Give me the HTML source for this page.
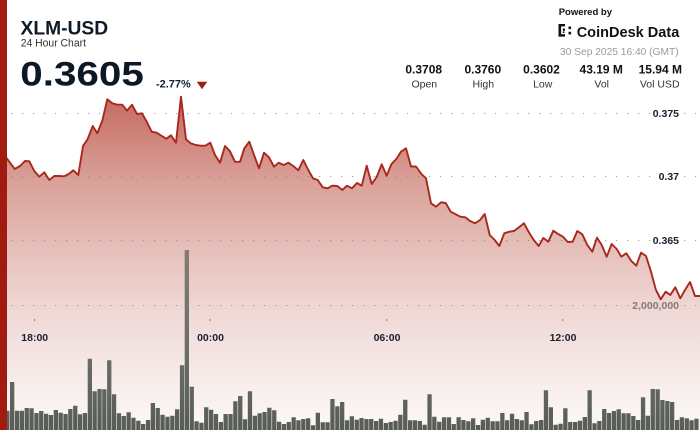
<!DOCTYPE html>
<html>
<head>
<meta charset="utf-8">
<style>
html,body{margin:0;padding:0;background:#fff;}
svg{display:block;}
text{font-family:"Liberation Sans",Arial,sans-serif;}
</style>
</head>
<body>
<svg width="700" height="430" viewBox="0 0 700 430" xmlns="http://www.w3.org/2000/svg">
<defs>
<linearGradient id="af" gradientUnits="userSpaceOnUse" x1="0" y1="95" x2="0" y2="430">
<stop offset="0" stop-color="#c5695f"/>
<stop offset="0.254" stop-color="#d9a098"/>
<stop offset="0.463" stop-color="#e6c0bb"/>
<stop offset="0.642" stop-color="#efd8d5"/>
<stop offset="0.851" stop-color="#f7ecea"/>
<stop offset="1" stop-color="#fcf8f8"/>
</linearGradient>
<linearGradient id="bg" gradientUnits="userSpaceOnUse" x1="0" y1="250" x2="0" y2="430">
<stop offset="0" stop-color="#857b77"/>
<stop offset="0.6" stop-color="#6a6c66"/>
<stop offset="1" stop-color="#575d56"/>
</linearGradient>
<path id="ln" d="M3,153 L7.3,159 L14.7,169 L20,166 L25,161 L29.3,161.3 L34.3,171 L39.3,176.7 L44.3,172.3 L49.3,180 L54.3,176 L59.3,176 L64,176.3 L68.7,174 L73.3,170.3 L78.3,175 L83,146 L87.7,139 L92.7,126 L97.3,133.3 L102.3,120.7 L107.3,99.3 L112.3,103.3 L117.3,104.7 L122.3,104.7 L127,110.7 L132,104.7 L137,114 L142,113.3 L146.7,121.7 L151.7,131.7 L156.7,132.7 L161.3,135.7 L166.3,138.7 L171,135.3 L176,142.7 L181,96.7 L186,139.3 L190.7,143.3 L195.7,145 L200.3,145.7 L205.3,145.7 L210.3,142.7 L215,155 L220,162.7 L225,146 L230,151.3 L235,161.8 L240,161.8 L244.3,148.3 L249.3,141.7 L254.3,155.7 L259,168.3 L264,152.7 L269,157.3 L274,166.7 L278.7,162.7 L283.7,165 L288.3,162.7 L293.3,166 L298.3,170.3 L303.3,160 L308.3,170 L313,178.3 L317.7,180 L322.7,187.3 L327.7,188.3 L332.3,185.7 L337.3,186 L342.3,190 L347,185.7 L352,188.3 L357,183 L361.7,185.7 L366.7,165.7 L371.7,184 L376.7,177 L381.7,164.3 L386.7,175.7 L391.3,164.3 L396.3,159 L401,151.7 L406,148.3 L411,166.5 L416,166.5 L421.7,174.3 L426,178.3 L431,203.3 L436,206.7 L441,202.3 L445.7,203 L450.7,211.7 L455.7,214.3 L460.3,216.7 L465.3,217.3 L470,221 L475,223.3 L480,220 L484.7,214 L489.7,235 L494.7,240 L499.3,246 L504.3,233.3 L509.3,231.7 L514,231 L519,227.3 L524,223.3 L528.7,232 L533.7,240 L538.7,246 L543.3,238 L548.3,241.7 L553.3,230.7 L558,234 L563,236.7 L567.7,242 L572.7,241.7 L577.3,231 L582.3,234.3 L587.3,245 L592.3,251.7 L597,237.7 L601.7,245 L606.7,256.7 L611.7,244 L616.7,249 L621.3,256.7 L626.3,253.3 L631.3,261 L636.3,265.7 L641,252.7 L646,256 L651,271.7 L655.7,289.3 L660.7,299.3 L665.7,291.7 L670.3,295 L675.3,287.3 L680.3,298.3 L685,290 L690,282 L695,296 L700,296"/>
</defs>
<rect width="700" height="430" fill="#fff"/>

<path fill="url(#af)" d="M3,153 L7.3,159 L14.7,169 L20,166 L25,161 L29.3,161.3 L34.3,171 L39.3,176.7 L44.3,172.3 L49.3,180 L54.3,176 L59.3,176 L64,176.3 L68.7,174 L73.3,170.3 L78.3,175 L83,146 L87.7,139 L92.7,126 L97.3,133.3 L102.3,120.7 L107.3,99.3 L112.3,103.3 L117.3,104.7 L122.3,104.7 L127,110.7 L132,104.7 L137,114 L142,113.3 L146.7,121.7 L151.7,131.7 L156.7,132.7 L161.3,135.7 L166.3,138.7 L171,135.3 L176,142.7 L181,96.7 L186,139.3 L190.7,143.3 L195.7,145 L200.3,145.7 L205.3,145.7 L210.3,142.7 L215,155 L220,162.7 L225,146 L230,151.3 L235,161.8 L240,161.8 L244.3,148.3 L249.3,141.7 L254.3,155.7 L259,168.3 L264,152.7 L269,157.3 L274,166.7 L278.7,162.7 L283.7,165 L288.3,162.7 L293.3,166 L298.3,170.3 L303.3,160 L308.3,170 L313,178.3 L317.7,180 L322.7,187.3 L327.7,188.3 L332.3,185.7 L337.3,186 L342.3,190 L347,185.7 L352,188.3 L357,183 L361.7,185.7 L366.7,165.7 L371.7,184 L376.7,177 L381.7,164.3 L386.7,175.7 L391.3,164.3 L396.3,159 L401,151.7 L406,148.3 L411,166.5 L416,166.5 L421.7,174.3 L426,178.3 L431,203.3 L436,206.7 L441,202.3 L445.7,203 L450.7,211.7 L455.7,214.3 L460.3,216.7 L465.3,217.3 L470,221 L475,223.3 L480,220 L484.7,214 L489.7,235 L494.7,240 L499.3,246 L504.3,233.3 L509.3,231.7 L514,231 L519,227.3 L524,223.3 L528.7,232 L533.7,240 L538.7,246 L543.3,238 L548.3,241.7 L553.3,230.7 L558,234 L563,236.7 L567.7,242 L572.7,241.7 L577.3,231 L582.3,234.3 L587.3,245 L592.3,251.7 L597,237.7 L601.7,245 L606.7,256.7 L611.7,244 L616.7,249 L621.3,256.7 L626.3,253.3 L631.3,261 L636.3,265.7 L641,252.7 L646,256 L651,271.7 L655.7,289.3 L660.7,299.3 L665.7,291.7 L670.3,295 L675.3,287.3 L680.3,298.3 L685,290 L690,282 L695,296 L700,296 L700,430 L3,430 Z"/>

<path fill="url(#bg)" d="M5.2,430V410.7h4.3V430z M10,430V382h4.3V430z M14.9,430V410.7h4.3V430z M19.7,430V410.7h4.3V430z M24.6,430V408h4.3V430z M29.4,430V408.3h4.3V430z M34.3,430V413h4.3V430z M39.1,430V411h4.3V430z M44,430V413.7h4.3V430z M48.8,430V415h4.3V430z M53.7,430V410h4.3V430z M58.5,430V412.7h4.3V430z M63.4,430V414h4.3V430z M68.2,430V409h4.3V430z M73.1,430V405.7h4.3V430z M77.9,430V414.3h4.3V430z M82.8,430V413h4.3V430z M87.7,430V358.7h4.3V430z M92.5,430V391.3h4.3V430z M97.4,430V389h4.3V430z M102.2,430V389.3h4.3V430z M107.1,430V360.3h4.3V430z M111.9,430V394.3h4.3V430z M116.8,430V413.3h4.3V430z M121.6,430V416h4.3V430z M126.5,430V412.3h4.3V430z M131.3,430V417.7h4.3V430z M136.2,430V420.7h4.3V430z M141,430V424h4.3V430z M145.9,430V420h4.3V430z M150.7,430V403h4.3V430z M155.6,430V408h4.3V430z M160.4,430V414.7h4.3V430z M165.3,430V416.7h4.3V430z M170.2,430V415.7h4.3V430z M175,430V409.3h4.3V430z M179.9,430V365.3h4.3V430z M184.7,430V250h4.3V430z M189.6,430V386.7h4.3V430z M194.4,430V421.3h4.3V430z M199.3,430V422.7h4.3V430z M204.1,430V407.3h4.3V430z M209,430V409.7h4.3V430z M213.8,430V414h4.3V430z M218.7,430V422h4.3V430z M223.5,430V414h4.3V430z M228.4,430V414h4.3V430z M233.2,430V401.3h4.3V430z M238.1,430V396h4.3V430z M242.9,430V419.3h4.3V430z M247.8,430V391.3h4.3V430z M252.7,430V415.7h4.3V430z M257.5,430V413.3h4.3V430z M262.4,430V412h4.3V430z M267.2,430V407.7h4.3V430z M272.1,430V410.3h4.3V430z M276.9,430V421.7h4.3V430z M281.8,430V424h4.3V430z M286.6,430V422h4.3V430z M291.5,430V417.3h4.3V430z M296.3,430V420.3h4.3V430z M301.2,430V419h4.3V430z M306,430V418.3h4.3V430z M310.9,430V425.3h4.3V430z M315.7,430V412.7h4.3V430z M320.6,430V422.3h4.3V430z M325.4,430V422.3h4.3V430z M330.3,430V399h4.3V430z M335.2,430V406.3h4.3V430z M340,430V402h4.3V430z M344.9,430V420.3h4.3V430z M349.7,430V416.3h4.3V430z M354.6,430V419.7h4.3V430z M359.4,430V418h4.3V430z M364.3,430V419h4.3V430z M369.1,430V419h4.3V430z M374,430V421h4.3V430z M378.8,430V418.7h4.3V430z M383.7,430V423h4.3V430z M388.5,430V422h4.3V430z M393.4,430V420.7h4.3V430z M398.2,430V414.7h4.3V430z M403.1,430V399.7h4.3V430z M408,430V420.3h4.3V430z M412.8,430V420.3h4.3V430z M417.7,430V421h4.3V430z M422.5,430V424.7h4.3V430z M427.4,430V394.3h4.3V430z M432.2,430V416.7h4.3V430z M437.1,430V421.7h4.3V430z M441.9,430V417.3h4.3V430z M446.8,430V417.3h4.3V430z M451.6,430V424h4.3V430z M456.5,430V417.3h4.3V430z M461.3,430V420h4.3V430z M466.2,430V421.3h4.3V430z M471,430V418.3h4.3V430z M475.9,430V425h4.3V430z M480.7,430V419.7h4.3V430z M485.6,430V417.7h4.3V430z M490.5,430V421.3h4.3V430z M495.3,430V421.3h4.3V430z M500.2,430V413h4.3V430z M505,430V420.3h4.3V430z M509.9,430V413.7h4.3V430z M514.7,430V419h4.3V430z M519.6,430V420.3h4.3V430z M524.4,430V412h4.3V430z M529.3,430V424.3h4.3V430z M534.1,430V421h4.3V430z M539,430V420h4.3V430z M543.8,430V390.3h4.3V430z M548.7,430V407.3h4.3V430z M553.5,430V424.7h4.3V430z M558.4,430V423.7h4.3V430z M563.2,430V408.3h4.3V430z M568.1,430V422h4.3V430z M573,430V422h4.3V430z M577.8,430V420.7h4.3V430z M582.7,430V417h4.3V430z M587.5,430V390.3h4.3V430z M592.4,430V423.3h4.3V430z M597.2,430V421h4.3V430z M602.1,430V409h4.3V430z M606.9,430V413h4.3V430z M611.8,430V411h4.3V430z M616.6,430V409.3h4.3V430z M621.5,430V413.3h4.3V430z M626.3,430V413.3h4.3V430z M631.2,430V416h4.3V430z M636,430V420h4.3V430z M640.9,430V397.3h4.3V430z M645.7,430V415.7h4.3V430z M650.6,430V389h4.3V430z M655.5,430V389.3h4.3V430z M660.3,430V400h4.3V430z M665.2,430V401h4.3V430z M670,430V402h4.3V430z M674.9,430V420h4.3V430z M679.7,430V417.3h4.3V430z M684.6,430V418.3h4.3V430z M689.4,430V420.3h4.3V430z M694.3,430V418.7h4.3V430z"/>

<g stroke="#8c8c8c" stroke-width="1" stroke-dasharray="1 10" fill="none">
<line x1="11.2" y1="113.5" x2="651" y2="113.5"/>
<line x1="684.2" y1="113.5" x2="700" y2="113.5"/>
<line x1="11.2" y1="176.5" x2="657" y2="176.5"/>
<line x1="684.2" y1="176.5" x2="700" y2="176.5"/>
<line x1="11.2" y1="240.5" x2="651" y2="240.5"/>
<line x1="684.2" y1="240.5" x2="700" y2="240.5"/>
<line x1="11.2" y1="305.5" x2="629" y2="305.5"/>
<line x1="684.2" y1="305.5" x2="700" y2="305.5"/>
</g>

<use href="#ln" fill="none" stroke="#a8281c" stroke-width="1.9" stroke-linejoin="round"/>

<g font-weight="bold" font-size="10.5" fill="#15202e" text-anchor="end">
<text x="679" y="117">0.375</text>
<text x="679" y="180.2">0.37</text>
<text x="679" y="243.8">0.365</text>
<text x="679" y="308.8" fill="#857a77">2,000,000</text>
</g>

<g fill="#1a2030">
<rect x="34" y="319.5" width="1" height="1"/>
<rect x="209.5" y="319.5" width="1" height="1"/>
<rect x="386.2" y="319.5" width="1" height="1"/>
<rect x="562.2" y="319.5" width="1" height="1"/>
</g>
<g font-weight="bold" font-size="10.5" fill="#1a2030" text-anchor="middle">
<text x="34.7" y="341">18:00</text>
<text x="210.5" y="341">00:00</text>
<text x="387" y="341">06:00</text>
<text x="563" y="341">12:00</text>
</g>

<rect x="0" y="0" width="7" height="430" fill="#a11b10"/>

<text x="20.5" y="34.3" font-size="19.5" font-weight="bold" fill="#0f1a28" textLength="87.6" lengthAdjust="spacingAndGlyphs">XLM-USD</text>
<text x="20.7" y="46.7" font-size="10.8" fill="#333" textLength="65.3" lengthAdjust="spacingAndGlyphs">24 Hour Chart</text>
<text x="20.3" y="85.7" font-size="34.5" font-weight="bold" fill="#0d1826" textLength="123.5" lengthAdjust="spacingAndGlyphs">0.3605</text>
<text x="156" y="87.3" font-size="11" font-weight="bold" fill="#15202e" textLength="34.7" lengthAdjust="spacingAndGlyphs">-2.77%</text>
<polygon points="196.7,81.7 207.3,81.7 202,89.3" fill="#a51c10"/>

<text x="558.7" y="15" font-size="9.5" font-weight="bold" fill="#111" textLength="53.3" lengthAdjust="spacingAndGlyphs">Powered by</text>
<g fill="#111">
<rect x="558.5" y="24" width="2.6" height="12.6"/>
<rect x="558.5" y="24" width="6.5" height="2.4"/>
<rect x="558.5" y="34.2" width="6.5" height="2.4"/>
<rect x="562.8" y="28.6" width="2.2" height="2.2"/>
<rect x="562.8" y="31.4" width="1.6" height="1.6"/>
<rect x="568.5" y="26.5" width="2.6" height="2.6"/>
<rect x="568.5" y="31.8" width="2.6" height="2.6"/>
</g>
<text x="576.7" y="37" font-size="14.5" font-weight="bold" fill="#111" textLength="102.6" lengthAdjust="spacingAndGlyphs">CoinDesk Data</text>
<text x="678.7" y="55" font-size="10.5" fill="#9a9a9a" text-anchor="end" textLength="118.7" lengthAdjust="spacingAndGlyphs">30 Sep 2025 16:40 (GMT)</text>

<g font-size="12" font-weight="bold" fill="#111" text-anchor="middle">
<text x="423.7" y="73.3">0.3708</text>
<text x="482.8" y="73.3">0.3760</text>
<text x="541.5" y="73.3">0.3602</text>
<text x="601.2" y="73.3">43.19 M</text>
<text x="660.3" y="73.3">15.94 M</text>
</g>
<g font-size="10.5" fill="#333" text-anchor="middle">
<text x="424.3" y="87.3">Open</text>
<text x="483.3" y="87.3">High</text>
<text x="542.7" y="87.3">Low</text>
<text x="601.7" y="87.3">Vol</text>
<text x="659.7" y="87.3">Vol USD</text>
</g>
</svg>
</body>
</html>
